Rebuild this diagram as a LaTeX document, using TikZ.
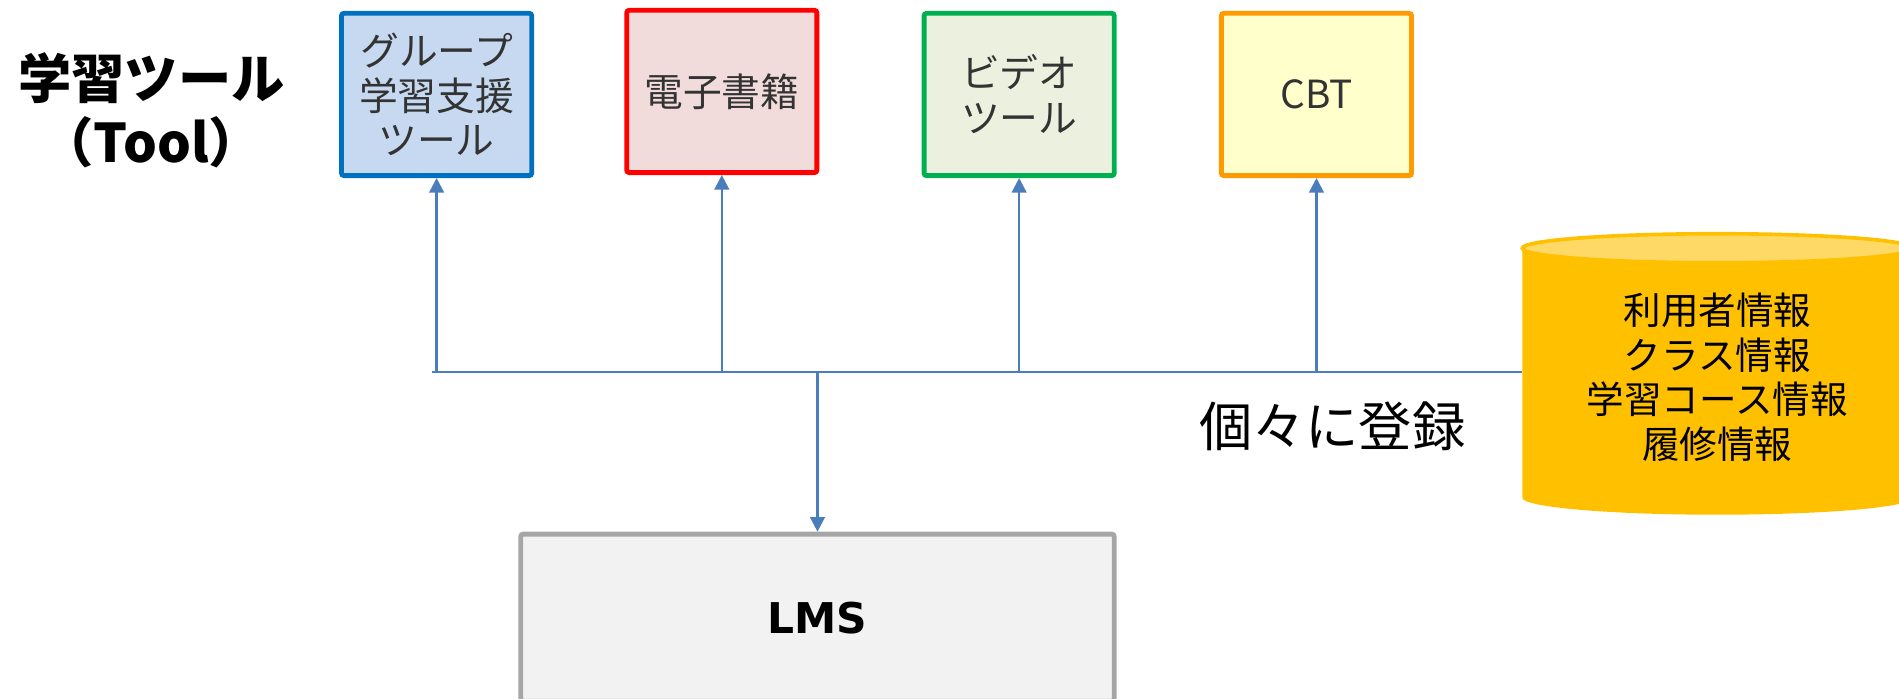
\documentclass[tikz,border=0pt]{standalone}
\usepackage{fontspec}
\setmainfont{Noto Sans CJK JP}
\newfontfamily\lmsfont{DejaVu Sans}
\usetikzlibrary{arrows.meta}
\definecolor{bluebd}{HTML}{0070C0}
\definecolor{bluefl}{HTML}{C6D9F0}
\definecolor{redbd}{HTML}{FF0000}
\definecolor{redfl}{HTML}{F2DCDB}
\definecolor{greenbd}{HTML}{00B050}
\definecolor{greenfl}{HTML}{EBF1DE}
\definecolor{orangebd}{HTML}{FF9B00}
\definecolor{orangefl}{HTML}{FFFFCC}
\definecolor{lmsbd}{HTML}{A6A6A6}
\definecolor{lmsfl}{HTML}{F2F2F2}
\definecolor{conn}{HTML}{4A7EBB}
\definecolor{cylfill}{HTML}{FFC000}
\definecolor{cyltop}{HTML}{FFD966}
\definecolor{boxtext}{HTML}{333333}
\tikzset{
  toolbox/.style={draw, line width=2pt, rounded corners=1pt, minimum width=78.5pt,
    minimum height=67pt, inner sep=0pt, align=center, text=boxtext,
    font=\fontsize{16}{18.5}\selectfont},
  lmsbox/.style={draw=lmsbd, fill=lmsfl, line width=2pt, rounded corners=1pt,
    minimum width=245pt, minimum height=69pt, inner sep=0pt,
    font=\lmsfont\bfseries\fontsize{17.5}{22}\selectfont},
  conline/.style={draw=conn, line width=1pt},
  conarrow/.style={conline, -{Triangle[length=6pt,width=6pt]}},
  bigtext/.style={align=center, inner sep=0pt, font=\fontsize{22}{26.5}\selectfont}
}
\begin{document}
\begin{tikzpicture}[x=0.5pt,y=-0.5pt]
\clip (0,0) rectangle (1568,577);
\useasboundingbox (0,0) rectangle (1568,577);

% title
\node[bigtext, font=\bfseries\fontsize{22}{26.5}\selectfont] (title) at (125,91) {学習ツール\\（Tool）};

% tool boxes
\node[toolbox, draw=bluebd, fill=bluefl] (grp) at (360.5,78) {グループ\\学習支援\\ツール};
\node[toolbox, draw=redbd, fill=redfl] (ebook) at (596,75.5) {電子書籍};
\node[toolbox, draw=greenbd, fill=greenfl] (video) at (841.5,78) {ビデオ\\ツール};
\node[toolbox, draw=orangebd, fill=orangefl] (cbt) at (1087,78) {CBT};

% LMS
\node[lmsbox] (lms) at (675,510) {LMS};

% database cylinder
\path[fill=cylfill] (1257,205) -- (1257,411)
  arc[start angle=180, end angle=360, x radius=80.5pt, y radius=7pt]
  -- (1579,205) -- cycle;
\path[fill=cyltop, draw=cylfill, line width=1.5pt] (1418,205) ellipse [x radius=80.5pt, y radius=6pt];
\node[align=center, inner sep=0pt, font=\fontsize{15.5}{18.5}\selectfont] (db) at (1418,311.5)
  {利用者情報\\クラス情報\\学習コース情報\\履修情報};
\coordinate (dbleft) at (1257,307);

% label
\node[bigtext] (reg) at (1100,352) {個々に登録};

% bus and connectors
\coordinate (bus) at (357,307);
\draw[conline] (bus) -- (dbleft);
\draw[conarrow] (grp.south |- bus) -- (grp.south);
\draw[conarrow] (ebook.south |- bus) -- (ebook.south);
\draw[conarrow] (video.south |- bus) -- (video.south);
\draw[conarrow] (cbt.south |- bus) -- (cbt.south);
\draw[conarrow] (lms.north |- bus) -- (lms.north);
\end{tikzpicture}
\end{document}
